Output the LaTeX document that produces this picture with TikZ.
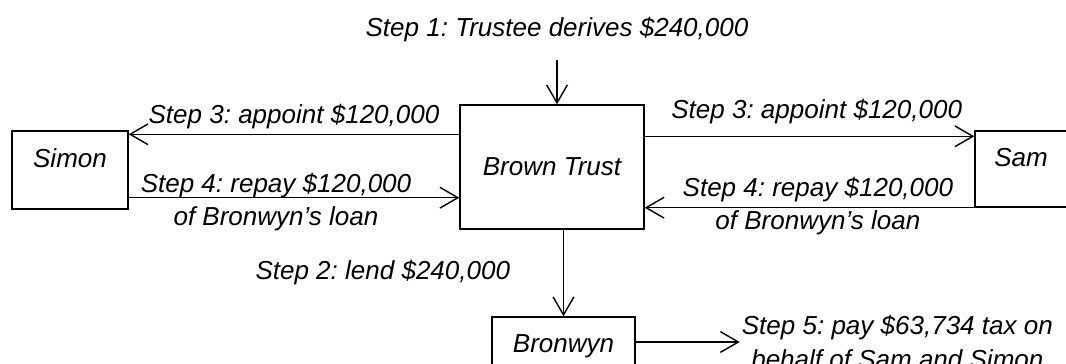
\documentclass[tikz,border=0pt]{standalone}
\usepackage{fontspec}
\setmainfont{Liberation Sans}
\usetikzlibrary{positioning,arrows.meta}
\frenchspacing

\begin{document}
\begin{tikzpicture}[x=0.025cm,y=-0.025cm,line width=1pt,
  >={Straight Barb[length=0.45cm,width=0.52cm]},
  every node/.style={font=\fontsize{18.5pt}{23.5pt}\selectfont\itshape},
  box/.style={draw,line width=1pt},
  party/.style={box,minimum height=1.95cm,text depth=0.6cm},
  lbl/.style={align=center}]
\useasboundingbox (0,0) rectangle (1066,363);

\node[box,minimum width=4.6cm,minimum height=3.1cm] (trust) at (552,167) {Brown Trust};

\node[party,minimum width=2.9cm] (simon) at (70,170) {Simon};

\node[party,minimum width=2.3cm,minimum height=1.9cm] (sam) at (1021,169) {Sam};

\node[party,minimum width=3.575cm] (bronwyn) at (563.5,356) {Bronwyn};

\node (step1) at (557,30) {Step 1: Trustee derives \$240,000};
\coordinate (s1) at (557,60);
\draw [->] (s1) -- (s1 |- trust.north);

\coordinate (l3) at ([yshift=-0.75cm]trust.north west);
\draw [->] (l3) -- (l3 -| simon.east) node[midway,above] {Step 3: appoint \$120,000};

\coordinate (l4) at ([yshift=0.8cm]trust.south west);
\draw [->] (l4 -| simon.east) -- (l4) node[midway,lbl,xshift=-0.45cm,yshift=-0.1cm] {Step 4: repay \$120,000\\of Bronwyn’s loan};

\coordinate (r3) at ([yshift=-0.8cm]trust.north east);
\draw [->] (r3) -- (r3 -| sam.west) node[midway,above,xshift=0.18cm,yshift=0.18cm] {Step 3: appoint \$120,000};

\draw [->] (sam.south west) -- (sam.south west -| trust.east) node[midway,lbl,xshift=0.21cm,yshift=0.05cm] {Step 4: repay \$120,000\\of Bronwyn’s loan};

\draw [->] (bronwyn.north |- trust.south) -- (bronwyn.north) node[midway,left=1.2cm] {Step 2: lend \$240,000};

\coordinate (b5) at ([yshift=0.35cm]bronwyn.east);
\node[lbl,anchor=west,inner xsep=1pt] (step5) at ([xshift=2.6cm]b5) {Step 5: pay \$63,734 tax on\\behalf of Sam and Simon};
\draw [->] (b5) -- (step5.west);

\end{tikzpicture}
\end{document}
